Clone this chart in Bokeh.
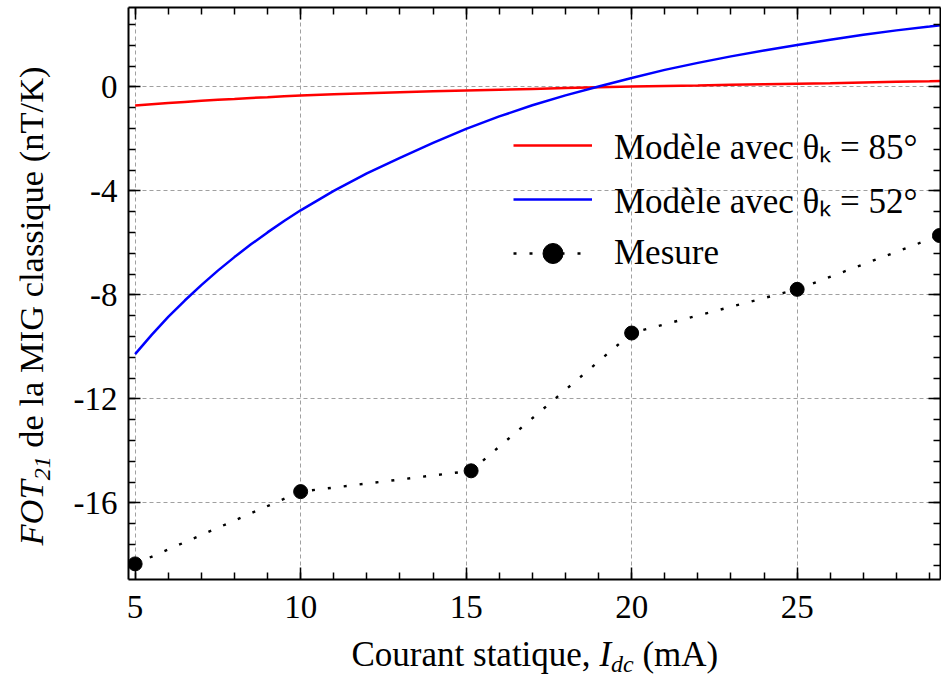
import math
from bokeh.plotting import figure
from bokeh.layouts import row, column
from bokeh.models import (Range1d, LinearAxis, SingleIntervalTicker, Label, Legend,
                          LegendItem, Grid, ColumnDataSource, PrintfTickFormatter)
from bokeh.embed import file_html
from bokeh.resources import INLINE

FONT = "Liberation Serif"

# ---------------- data ----------------
x_model = [5, 5.5, 6, 6.5, 7, 7.5, 8, 8.5, 9, 9.5, 10, 11, 12, 13, 14, 15, 16, 17, 18,
           19, 20, 21, 22, 23, 24, 25, 26, 27, 28, 29, 29.33]
y_model_85 = [-0.72, -0.67, -0.62, -0.58, -0.54, -0.50, -0.47, -0.43, -0.40, -0.36,
              -0.33, -0.29, -0.25, -0.21, -0.17, -0.14, -0.11, -0.08, -0.05, -0.02,
              0.01, 0.03, 0.05, 0.08, 0.10, 0.12, 0.14, 0.17, 0.19, 0.21, 0.22]
y_model_52 = [-10.28, -9.54, -8.85, -8.22, -7.63, -7.07, -6.55, -6.06, -5.60, -5.16,
              -4.75, -4.00, -3.33, -2.73, -2.16, -1.62, -1.14, -0.71, -0.33, 0.01,
              0.34, 0.65, 0.92, 1.17, 1.40, 1.61, 1.81, 2.00, 2.17, 2.32, 2.37]
x_mesure = [5, 10, 15.15, 20, 25, 29.3]
y_mesure = [-18.35, -15.57, -14.77, -9.47, -7.79, -5.72]

legend_labels = ["Modèle avec θₖ = 85°", "Modèle avec θₖ = 52°", "Mesure"]
x_label_parts = ["Courant statique,", "I", "dc", "(mA)"]
y_label_parts = ["FOT", "21", "de la MIG classique (nT/K)"]

x_lim = (4.8, 29.33)
y_lim = (-18.95, 3.05)
x_tick_step = 5
y_tick_step = 4

# ---------------- main figure ----------------
YT_W = 56          # width of the y-title strip
XT_H = 44          # height of the x-title strip
TOTAL_W, TOTAL_H = 941, 678
MAIN_W = TOTAL_W - YT_W
MAIN_H = TOTAL_H - XT_H
FRAME_LEFT = 128   # page x of the plot frame's left edge
FRAME_BOTTOM = 579

p = figure(width=MAIN_W, height=MAIN_H, output_backend="svg", toolbar_location=None,
           x_range=Range1d(*x_lim), y_range=Range1d(*y_lim),
           x_axis_location=None, y_axis_location=None,
           min_border_left=FRAME_LEFT - YT_W, min_border_right=1, min_border_top=7,
           min_border_bottom=MAIN_H - FRAME_BOTTOM)
p.outline_line_color = None
p.background_fill_color = "white"
p.border_fill_color = "white"
for g in p.grid:
    g.visible = False

xt = SingleIntervalTicker(interval=x_tick_step, num_minor_ticks=5)
yt = SingleIntervalTicker(interval=y_tick_step, num_minor_ticks=5)


def style_axis(ax, show_labels, standoff):
    ax.axis_line_width = 2
    ax.axis_line_color = "black"
    ax.major_tick_in = 12
    ax.major_tick_out = 0
    ax.minor_tick_in = 7
    ax.minor_tick_out = 0
    ax.major_tick_line_width = 1.5
    ax.minor_tick_line_width = 1.5
    ax.major_tick_line_color = "black"
    ax.minor_tick_line_color = "black"
    ax.formatter = PrintfTickFormatter(format="%d")
    ax.major_label_text_font = FONT
    ax.major_label_text_color = "black"
    ax.major_label_standoff = standoff
    ax.major_label_text_font_size = "33px" if show_labels else "0px"
    if not show_labels:
        ax.major_label_text_alpha = 0


bottom = LinearAxis(ticker=xt)
style_axis(bottom, True, 16)
top = LinearAxis(ticker=xt)
style_axis(top, False, 0)
left = LinearAxis(ticker=yt)
style_axis(left, True, 11)
right = LinearAxis(ticker=yt)
style_axis(right, False, 0)
p.add_layout(bottom, "below")
p.add_layout(top, "above")
p.add_layout(left, "left")
p.add_layout(right, "right")

for dim, tk in ((0, xt), (1, yt)):
    g = Grid(dimension=dim, ticker=tk)
    g.grid_line_color = "#a0a0a0"
    g.grid_line_dash = "4 3"
    g.grid_line_width = 1
    p.add_layout(g)

# ---------------- series ----------------
src_model = ColumnDataSource(dict(x=x_model, y85=y_model_85, y52=y_model_52))
src_mes = ColumnDataSource(dict(x=x_mesure, y=y_mesure))

r_red = p.line("x", "y85", source=src_model, line_color="#ff0000", line_width=2.5)
r_blue = p.line("x", "y52", source=src_model, line_color="#0000ff", line_width=2.5)
r_mes_line = p.line("x", "y", source=src_mes, line_color="black", line_width=2.4,
                    line_dash="3 13")
r_mes_pts = p.scatter("x", "y", source=src_mes, marker="circle", size=14,
                      fill_color="black", line_color="black")

legend = Legend(items=[
    LegendItem(label=legend_labels[0], renderers=[r_red]),
    LegendItem(label=legend_labels[1], renderers=[r_blue]),
    LegendItem(label=legend_labels[2], renderers=[r_mes_line, r_mes_pts]),
], location=(385, 301))
legend.background_fill_alpha = 0
legend.border_line_color = None
legend.padding = 0
legend.margin = 0
legend.spacing = 4
legend.label_height = 50
legend.glyph_height = 50
legend.glyph_width = 79
legend.label_standoff = 22
legend.label_text_font = FONT
legend.label_text_font_size = "35px"
legend.label_text_color = "black"
p.add_layout(legend)

# ---------------- axis titles built from pieces (italic / subscripts) ----------------
REG = {' ': 250, 'C': 667, 'o': 500, 'u': 500, 'r': 333, 'a': 444, 'n': 500, 't': 278,
       's': 389, 'i': 278, 'q': 500, 'e': 444, ',': 250, '(': 333, 'm': 778, 'A': 722,
       ')': 333, 'd': 500, 'l': 278, 'M': 889, 'I': 333, 'G': 722, 'c': 444, 'T': 611,
       '/': 278, 'K': 722}
ITA = {'F': 611, 'O': 722, 'T': 556, 'I': 333, 'd': 500, 'c': 444, '2': 500, '1': 500}


def text_w(s, size, table):
    return sum(table.get(ch, 500) for ch in s) * size / 1000.0


def text_fig(w, h):
    f = figure(width=w, height=h, output_backend="svg", toolbar_location=None,
               x_axis_location=None, y_axis_location=None, min_border=0,
               x_range=Range1d(0, 1), y_range=Range1d(0, 1))
    f.outline_line_color = None
    for g in f.grid:
        g.visible = False
    f.background_fill_color = "white"
    f.border_fill_color = "white"
    return f


X_LBL, Y_LBL, SUB = 35, 34.5, 24

# x axis title strip (its frame is aligned with the main frame's left edge)
xf = text_fig(MAIN_W, XT_H)
xx = 351 - FRAME_LEFT
specs = [(x_label_parts[0], X_LBL, "normal", REG, 24, 0.25),
         (x_label_parts[1], X_LBL, "italic", ITA, 24, 0.0),
         (x_label_parts[2], SUB, "italic", ITA, 15, 0.0),
         (x_label_parts[3], X_LBL, "normal", REG, 24, 0.0)]
for i, (txt, size, style, tab, ypos, gap) in enumerate(specs):
    if i == 3:
        xx += 0.25 * X_LBL
    xf.add_layout(Label(x=xx, y=ypos, x_units="screen", y_units="screen", text=txt,
                        text_font=FONT, text_font_size=f"{size}px", text_font_style=style,
                        text_color="black", text_baseline="middle", text_align="left"))
    xx += text_w(txt, size, tab) + gap * size

# y axis title strip, rotated text
yf = text_fig(YT_W, TOTAL_H)
yy = TOTAL_H - 545
specs = [(y_label_parts[0], Y_LBL, "italic", ITA, 30, 0.0),
         (y_label_parts[1], SUB, "italic", ITA, 42, 0.0),
         (y_label_parts[2], Y_LBL, "normal", REG, 30, 0.0)]
for i, (txt, size, style, tab, xpos, gap) in enumerate(specs):
    if i == 2:
        yy += 0.25 * Y_LBL
    yf.add_layout(Label(x=xpos, y=yy, x_units="screen", y_units="screen", text=txt,
                        angle=math.pi / 2,
                        text_font=FONT, text_font_size=f"{size}px", text_font_style=style,
                        text_color="black", text_baseline="middle", text_align="left"))
    yy += text_w(txt, size, tab) + gap * size

layout = row(yf, column(p, xf, spacing=0), spacing=0)
open("out.html", "w").write(file_html(layout, INLINE))
